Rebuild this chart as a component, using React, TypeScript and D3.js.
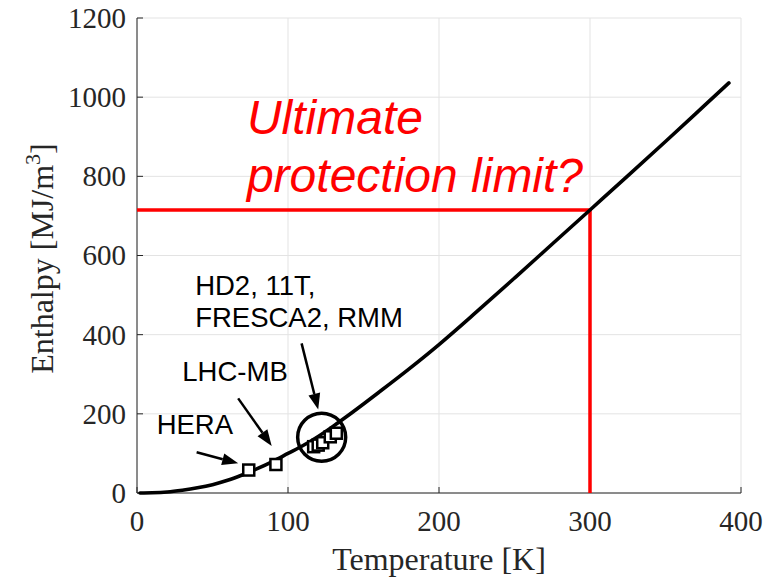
import * as d3 from "d3";

// enthalpy curve
const curveT = [2, 10, 20, 30, 40, 50, 60, 70, 80, 90, 100, 110, 120, 130, 140, 150, 160, 180, 200, 225, 250, 275, 300, 325, 350, 375, 392];
const curveH = [0, 0.5, 2.5, 7, 13, 21, 32, 46, 62, 80, 100, 120, 143, 169, 196.5, 225, 254, 313, 375, 458, 543, 629, 715, 801, 888, 976, 1036];

// magnet markers (HERA, LHC-MB, then the Nb3Sn cluster)
const magnetT = [74, 92, 117, 120, 123, 128, 132];
const magnetH = [58, 72, 117, 121, 127, 142, 151];

const xTicks = [0, 100, 200, 300, 400];
const yTicks = [0, 200, 400, 600, 800, 1000, 1200];

const limitT = 300;
const limitH = 715;

const labelLines = ["HD2, 11T,", "FRESCA2, RMM", "LHC-MB", "HERA"];
const labelT = [38.5, 38.5, 30, 13];
const labelH = [500, 420, 283, 148];

// arrows: [fromT, fromH, toT, toH]
const arrows = [
  [39.5, 103, 67, 75],
  [67, 239, 89.2, 119],
  [109, 378, 120, 211],
];

const width = 772;
const height = 577;
const margin = { left: 137, right: 31, top: 18, bottom: 84 };

const serif = "'Liberation Serif', 'Times New Roman', serif";
const sans = "'Liberation Sans', Arial, sans-serif";

export default function App() {
  const x = d3.scaleLinear().domain([0, 400]).range([margin.left, width - margin.right]);
  const y = d3.scaleLinear().domain([0, 1200]).range([height - margin.bottom, margin.top]);
  const line = d3
    .line<number>()
    .x((_, i) => x(curveT[i]))
    .y((d) => y(d))
    .curve(d3.curveMonotoneX);

  const x0 = x(0);
  const x1 = x(400);
  const y0 = y(0);
  const y1 = y(1200);
  const axisColor = "#262626";
  const gridColor = "#e3e3e3";

  const arrowHead = (a: number[]) => {
    const [fx, fy, tx, ty] = [x(a[0]), y(a[1]), x(a[2]), y(a[3])];
    const ang = Math.atan2(ty - fy, tx - fx);
    const len = 16;
    const half = 6;
    const bx = tx - len * Math.cos(ang);
    const by = ty - len * Math.sin(ang);
    const px = -Math.sin(ang) * half;
    const py = Math.cos(ang) * half;
    return {
      shaft: `M${fx},${fy}L${bx},${by}`,
      head: `M${tx},${ty}L${bx + px},${by + py}L${bx - px},${by - py}Z`,
    };
  };

  return (
    <svg width={width} height={height} style={{ position: "absolute", left: 0, top: 0, background: "#fff" }}>
      <rect width={width} height={height} fill="#fff" />
      {/* grid */}
      {xTicks.map((t) => (
        <line key={"gx" + t} x1={x(t)} x2={x(t)} y1={y0} y2={y1} stroke={gridColor} strokeWidth={1} />
      ))}
      {yTicks.map((t) => (
        <line key={"gy" + t} x1={x0} x2={x1} y1={y(t)} y2={y(t)} stroke={gridColor} strokeWidth={1} />
      ))}

      {/* axes */}
      <line x1={x0} x2={x1} y1={y0} y2={y0} stroke={axisColor} strokeWidth={1} />
      <line x1={x0} x2={x0} y1={y0} y2={y1} stroke={axisColor} strokeWidth={1} />
      {xTicks.map((t) => (
        <g key={"xt" + t}>
          <line x1={x(t)} x2={x(t)} y1={y0} y2={y0 - 6} stroke={axisColor} strokeWidth={1} />
          <text x={x(t)} y={y0 + 38} textAnchor="middle" fontFamily={serif} fontSize={29} fill={axisColor}>
            {t}
          </text>
        </g>
      ))}
      {yTicks.map((t) => (
        <g key={"yt" + t}>
          <line x1={x0} x2={x0 + 6} y1={y(t)} y2={y(t)} stroke={axisColor} strokeWidth={1} />
          <text x={x0 - 11} y={y(t)} dy="0.34em" textAnchor="end" fontFamily={serif} fontSize={29} fill={axisColor}>
            {t}
          </text>
        </g>
      ))}
      <text x={(x0 + x1) / 2} y={570} textAnchor="middle" fontFamily={serif} fontSize={32} fill={axisColor}>
        Temperature [K]
      </text>
      <text
        transform={`translate(53, ${(y0 + y1) / 2 + 3}) rotate(-90)`}
        textAnchor="middle"
        fontFamily={serif}
        fontSize={32}
        fill={axisColor}
      >
        Enthalpy [MJ/m
        <tspan fontSize={22} dy={-13}>
          3
        </tspan>
        <tspan dy={13}>]</tspan>
      </text>

      {/* red limit lines */}
      <path
        d={`M${x(0)},${y(limitH)}L${x(limitT)},${y(limitH)}L${x(limitT)},${y(0)}`}
        fill="none"
        stroke="#ff0000"
        strokeWidth={3.5}
      />

      {/* enthalpy curve */}
      <path d={line(curveH) ?? ""} fill="none" stroke="#000" strokeWidth={3.6} strokeLinecap="round" />

      {/* markers */}
      {magnetT.map((t, i) => (
        <rect
          key={"m" + i}
          x={x(t) - 5.5}
          y={y(magnetH[i]) - 5.5}
          width={11}
          height={11}
          fill="#fff"
          stroke="#000"
          strokeWidth={2.5}
        />
      ))}
      <circle cx={x(122.3)} cy={y(141)} r={24} fill="none" stroke="#000" strokeWidth={3.5} />

      {/* annotations */}
      {labelLines.map((s, i) => (
        <text key={"l" + i} x={x(labelT[i])} y={y(labelH[i])} fontFamily={sans} fontSize={27.5} fill="#000">
          {s}
        </text>
      ))}
      {arrows.map((a, i) => {
        const h = arrowHead(a);
        return (
          <g key={"a" + i}>
            <path d={h.shaft} stroke="#000" strokeWidth={2.5} />
            <path d={h.head} fill="#000" />
          </g>
        );
      })}
      <text x={x(72.8)} y={y(906)} fontFamily={sans} fontStyle="italic" fontSize={48} fill="#ff0000">
        Ultimate
      </text>
      <text x={x(72.8)} y={y(760)} fontFamily={sans} fontStyle="italic" fontSize={48} fill="#ff0000">
        protection limit?
      </text>
    </svg>
  );
}
